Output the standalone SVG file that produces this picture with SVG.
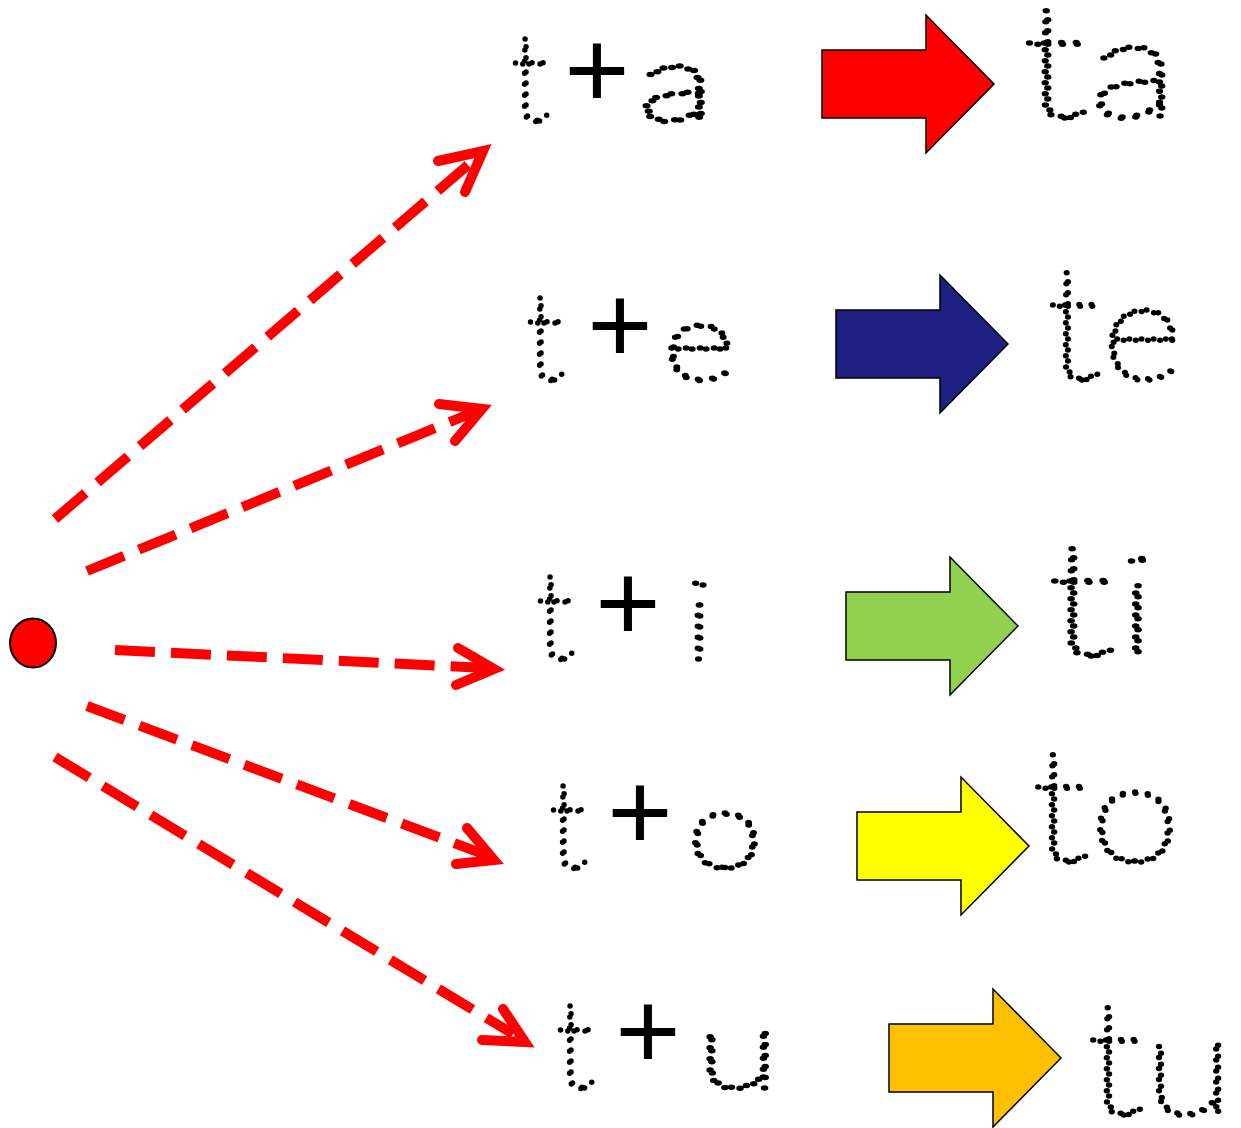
<svg xmlns="http://www.w3.org/2000/svg" width="1241" height="1128" viewBox="0 0 1241 1128">
<style>
.dot{font-family:Lato,Roboto,"DejaVu Sans",sans-serif;font-weight:100;fill:none;stroke:#000;stroke-width:5.5;stroke-dasharray:0 11;stroke-linecap:round}
.plus{font-family:"Liberation Sans",Arial,sans-serif;font-size:112px;fill:#000;text-anchor:middle}
.dash{fill:none;stroke:#f00;stroke-width:10;stroke-dasharray:40 16}
.head{fill:none;stroke:#f00;stroke-width:10;stroke-linecap:round;stroke-linejoin:miter;stroke-miterlimit:10}
.big{stroke:#000;stroke-width:1.5}
</style>
<rect width="1241" height="1128" fill="#fff"/>
<g id="origin"><ellipse cx="33" cy="643" rx="23" ry="24.5" fill="#f00" stroke="#000" stroke-width="2"/></g>
<g id="connectors">
<line class="dash" x1="55" y1="519" x2="468" y2="165"/>
<polyline class="head" points="438,161 483,151 465,192"/>
<line class="dash" x1="87" y1="571" x2="474" y2="412"/>
<polyline class="head" points="439,404 482,409 455,441"/>
<line class="dash" x1="115" y1="650" x2="487" y2="668"/>
<polyline class="head" points="458,648 494,669 456,685"/>
<line class="dash" x1="87" y1="706" x2="486" y2="855"/>
<polyline class="head" points="467,828 494,860 456,864"/>
<line class="dash" x1="55" y1="757" x2="513" y2="1034"/>
<polyline class="head" points="503,1009 525,1042 482,1040"/>
</g>
<g id="row-a">
<text class="dot" x="510" y="121" font-size="122">t</text>
<text class="plus" x="597" y="108">+</text>
<text class="dot" x="638" y="121" font-size="110" textLength="77" lengthAdjust="spacingAndGlyphs">a</text>
<polygon class="big" fill="#ff0000" points="822,50 926,50 926,15 994,84 926,153 926,118 822,118"/>
<text class="dot" x="1020" y="117" font-size="140" textLength="158" lengthAdjust="spacingAndGlyphs"><tspan font-size="158">t</tspan>a</text>
</g>
<g id="row-e">
<text class="dot" x="525" y="380" font-size="122">t</text>
<text class="plus" x="620" y="363">+</text>
<text class="dot" x="663" y="380" font-size="110" textLength="72" lengthAdjust="spacingAndGlyphs">e</text>
<polygon class="big" fill="#201f82" points="836,310 940,310 940,275 1008,344 940,413 940,378 836,378"/>
<text class="dot" x="1045" y="379" font-size="140" textLength="137" lengthAdjust="spacingAndGlyphs"><tspan font-size="158">t</tspan>e</text>
</g>
<g id="row-i">
<text class="dot" x="535" y="659" font-size="122">t</text>
<text class="plus" x="628" y="641">+</text>
<text class="dot" x="684" y="659" font-size="110" textLength="30" lengthAdjust="spacingAndGlyphs">i</text>
<polygon class="big" fill="#92d050" points="846,592 950,592 950,557 1018,626 950,695 950,660 846,660"/>
<text class="dot" x="1045" y="655" font-size="140" textLength="112" lengthAdjust="spacingAndGlyphs"><tspan font-size="158">t</tspan>i</text>
</g>
<g id="row-o">
<text class="dot" x="548" y="868" font-size="122">t</text>
<text class="plus" x="640" y="850">+</text>
<text class="dot" x="687" y="868" font-size="110" textLength="76" lengthAdjust="spacingAndGlyphs">o</text>
<polygon class="big" fill="#ffff00" points="857,812 961,812 961,777 1029,846 961,915 961,880 857,880"/>
<text class="dot" x="1030" y="861" font-size="140" textLength="150" lengthAdjust="spacingAndGlyphs"><tspan font-size="158">t</tspan>o</text>
</g>
<g id="row-u">
<text class="dot" x="555" y="1088" font-size="122">t</text>
<text class="plus" x="648" y="1069">+</text>
<text class="dot" x="697" y="1088" font-size="110" textLength="82" lengthAdjust="spacingAndGlyphs">u</text>
<polygon class="big" fill="#ffc000" points="889,1024 993,1024 993,989 1061,1058 993,1127 993,1092 889,1092"/>
<text class="dot" x="1085" y="1114" font-size="140" textLength="148" lengthAdjust="spacingAndGlyphs"><tspan font-size="158">t</tspan>u</text>
</g>
</svg>
